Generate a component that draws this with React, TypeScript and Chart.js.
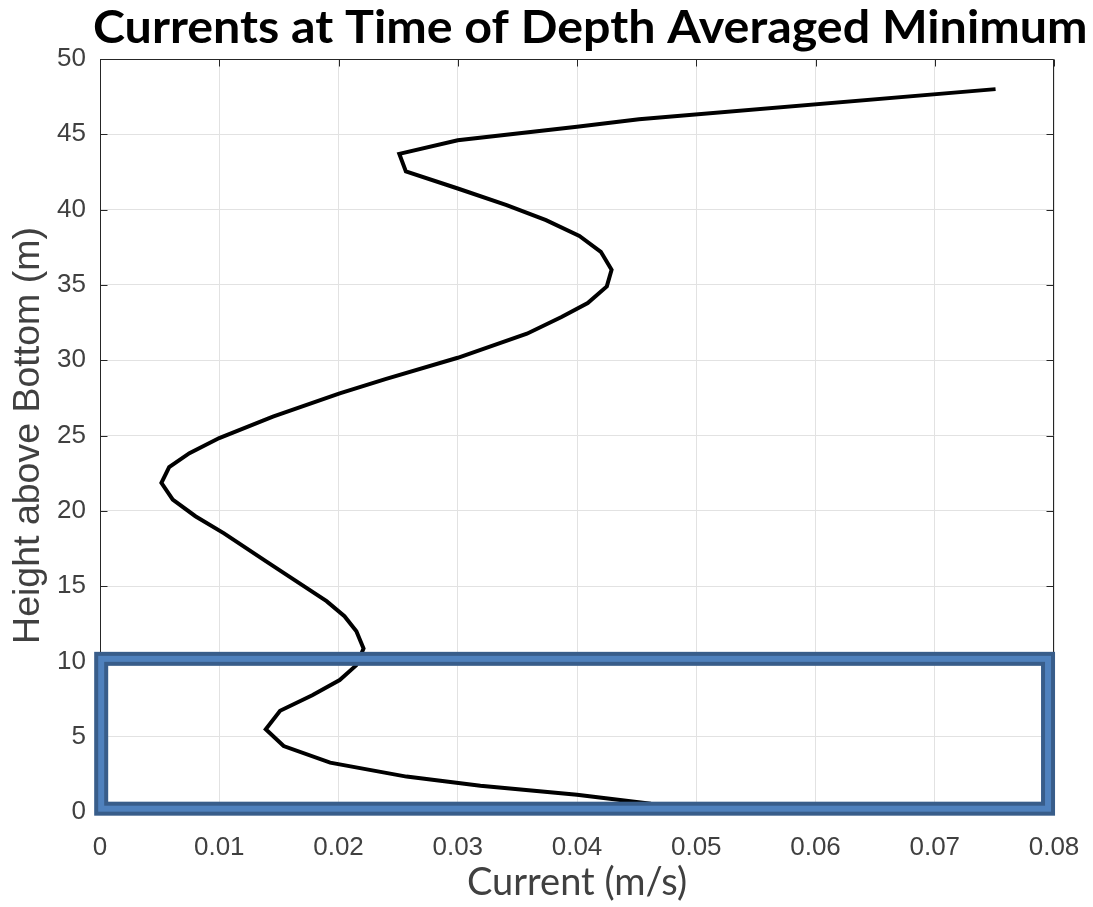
import React, { useEffect, useRef } from 'react';
import { Chart, registerables } from 'chart.js';

Chart.register(...registerables);

const TITLE = 'Currents at Time of Depth Averaged Minimum';
const X_TITLE = 'Current (m/s)';
const Y_TITLE = 'Height above Bottom (m)';

// Profile (height above bottom in m, current in m/s)
const heights = [
  0.55, 1.15, 1.75, 2.35, 3.28, 4.38, 5.49, 6.72, 7.75, 8.76, 9.75, 10.86,
  12.0, 13.0, 14.0, 15.33, 16.66, 18.5, 19.64, 20.75, 21.85, 22.9, 23.83,
  24.83, 26.26, 27.8, 28.76, 30.16, 31.76, 32.87, 33.8, 34.9, 36.0, 37.2,
  38.25, 39.3, 40.3, 41.4, 42.53, 43.7, 44.6, 45.5, 46.0, 48.0,
];
const currents = [
  0.0462, 0.04, 0.0319, 0.0257, 0.0193, 0.0154, 0.0139, 0.0151, 0.0178,
  0.0201, 0.0215, 0.0221, 0.0215, 0.0205, 0.019, 0.01645, 0.0139, 0.0104,
  0.008, 0.0061, 0.00515, 0.0058, 0.0075, 0.01, 0.0145, 0.0201, 0.024, 0.03,
  0.0358, 0.0387, 0.0409, 0.0425, 0.0429, 0.042, 0.0402, 0.0374, 0.0341,
  0.03, 0.02565, 0.0251, 0.03, 0.04, 0.0452, 0.0751,
];

const xTicks = [0, 0.01, 0.02, 0.03, 0.04, 0.05, 0.06, 0.07, 0.08];
const xTickLabels = ['0', '0.01', '0.02', '0.03', '0.04', '0.05', '0.06', '0.07', '0.08'];
const yTicks = [0, 5, 10, 15, 20, 25, 30, 35, 40, 45, 50];
const yTickLabels = ['0', '5', '10', '15', '20', '25', '30', '35', '40', '45', '50'];

// Highlight box (data units)
const boxCurrent = [0.0001, 0.0795];
const boxHeight = [0.22, 10.17];

const AXIS_COLOR = '#262626';
const TEXT_COLOR = '#404040';

const framePlugin = {
  id: 'frameTicks',
  afterDatasetsDraw(chart: any) {
    const { ctx, chartArea } = chart;
    const xs = chart.scales.x;
    const ys = chart.scales.y;
    const L = Math.round(chartArea.left) + 0.5;
    const R = Math.round(chartArea.right) - 0.5;
    const T = Math.round(chartArea.top) + 0.5;
    const B = Math.round(chartArea.bottom) - 0.5;
    const tl = 7;
    ctx.save();
    ctx.strokeStyle = AXIS_COLOR;
    ctx.lineWidth = 1;
    ctx.beginPath();
    ctx.moveTo(L, T);
    ctx.lineTo(R, T);
    ctx.lineTo(R, B);
    ctx.lineTo(L, B);
    ctx.closePath();
    xTicks.forEach((v) => {
      const px = Math.round(xs.getPixelForValue(v)) + 0.5;
      ctx.moveTo(px, T);
      ctx.lineTo(px, T + tl);
      ctx.moveTo(px, B);
      ctx.lineTo(px, B - tl);
    });
    yTicks.forEach((v) => {
      const py = Math.round(ys.getPixelForValue(v)) + 0.5;
      ctx.moveTo(L, py);
      ctx.lineTo(L + tl, py);
      ctx.moveTo(R, py);
      ctx.lineTo(R - tl, py);
    });
    ctx.stroke();
    ctx.restore();
  },
};

const highlightPlugin = {
  id: 'highlightBox',
  afterDraw(chart: any) {
    const { ctx } = chart;
    const xs = chart.scales.x;
    const ys = chart.scales.y;
    const x0 = xs.getPixelForValue(boxCurrent[0]);
    const x1 = xs.getPixelForValue(boxCurrent[1]);
    const y0 = ys.getPixelForValue(boxHeight[1]);
    const y1 = ys.getPixelForValue(boxHeight[0]);
    ctx.save();
    ctx.lineJoin = 'miter';
    ctx.strokeStyle = '#385D8A';
    ctx.lineWidth = 14;
    ctx.strokeRect(x0, y0, x1 - x0, y1 - y0);
    ctx.strokeStyle = '#4F81BD';
    ctx.lineWidth = 6;
    ctx.strokeRect(x0, y0, x1 - x0, y1 - y0);
    ctx.restore();
  },
};

const titlePlugin = {
  id: 'stretchedTitle',
  afterDraw(chart: any) {
    const { ctx } = chart;
    ctx.save();
    ctx.font = 'bold 46px Lato, "Open Sans", sans-serif';
    const w = ctx.measureText(TITLE).width;
    const target = chart.width * 0.91;
    ctx.translate(chart.width * 0.54, 43);
    ctx.scale(target / w, 1);
    ctx.fillStyle = '#000000';
    ctx.textAlign = 'center';
    ctx.textBaseline = 'alphabetic';
    ctx.fillText(TITLE, 0, 0);
    ctx.restore();
  },
};

export default function App() {
  const canvasRef = useRef<HTMLCanvasElement | null>(null);

  useEffect(() => {
    const canvas = canvasRef.current;
    if (!canvas) return;
    const points = heights.map((h, i) => ({ x: currents[i], y: h }));
    const chart = new Chart(canvas, {
      type: 'scatter',
      data: {
        datasets: [
          {
            label: 'Current',
            data: points,
            showLine: true,
            borderColor: '#000000',
            backgroundColor: '#000000',
            borderWidth: 4,
            pointRadius: 0,
            pointHoverRadius: 0,
            tension: 0,
            borderJoinStyle: 'miter',
            fill: false,
          },
        ],
      },
      options: {
        responsive: false,
        animation: false,
        maintainAspectRatio: false,
        layout: { padding: { top: 59, right: 39, left: 0, bottom: 0 } },
        plugins: {
          legend: { display: false },
          title: { display: false },
          tooltip: { enabled: false },
        },
        scales: {
          x: {
            type: 'linear',
            position: 'bottom',
            min: 0,
            max: 0.08,
            afterBuildTicks: (scale: any) => {
              scale.ticks = xTicks.map((v) => ({ value: v }));
            },
            afterFit: (scale: any) => {
              scale.height = 95;
              scale.paddingLeft = 0;
              scale.paddingRight = 0;
            },
            ticks: {
              autoSkip: false,
              maxRotation: 0,
              padding: 20,
              color: TEXT_COLOR,
              font: { family: '"Liberation Sans", Arial, sans-serif', size: 26 },
              callback: (_v: any, i: number) => xTickLabels[i],
            },
            grid: { color: '#e2e2e2', lineWidth: 1, drawTicks: false },
            border: { display: true, color: AXIS_COLOR, width: 1 },
            title: {
              display: true,
              text: X_TITLE,
              color: TEXT_COLOR,
              font: { family: 'Lato, "Open Sans", sans-serif', size: 38, lineHeight: 1 },
              padding: { top: 0, bottom: 5 },
            },
          },
          y: {
            type: 'linear',
            position: 'left',
            min: 0,
            max: 50,
            afterBuildTicks: (scale: any) => {
              scale.ticks = yTicks.map((v) => ({ value: v }));
            },
            afterFit: (scale: any) => {
              scale.width = 100;
              scale.paddingTop = 0;
              scale.paddingBottom = 0;
            },
            ticks: {
              autoSkip: false,
              padding: 14,
              color: TEXT_COLOR,
              font: { family: '"Liberation Sans", Arial, sans-serif', size: 26 },
              callback: (_v: any, i: number) => yTickLabels[i],
            },
            grid: { color: '#e2e2e2', lineWidth: 1, drawTicks: false },
            border: { display: true, color: AXIS_COLOR, width: 1 },
            title: {
              display: true,
              text: Y_TITLE,
              color: TEXT_COLOR,
              font: { family: '"Liberation Sans", Arial, sans-serif', size: 37.5, lineHeight: 1 },
              padding: { top: 10, bottom: 0 },
            },
          },
        },
      },
      plugins: [framePlugin, highlightPlugin, titlePlugin],
    } as any);
    return () => chart.destroy();
  }, []);

  return (
    <div style={{ position: 'fixed', left: 0, top: 0, width: 1093, height: 907, background: '#ffffff' }}>
      <canvas ref={canvasRef} width={1093} height={907} style={{ display: 'block' }} />
    </div>
  );
}
